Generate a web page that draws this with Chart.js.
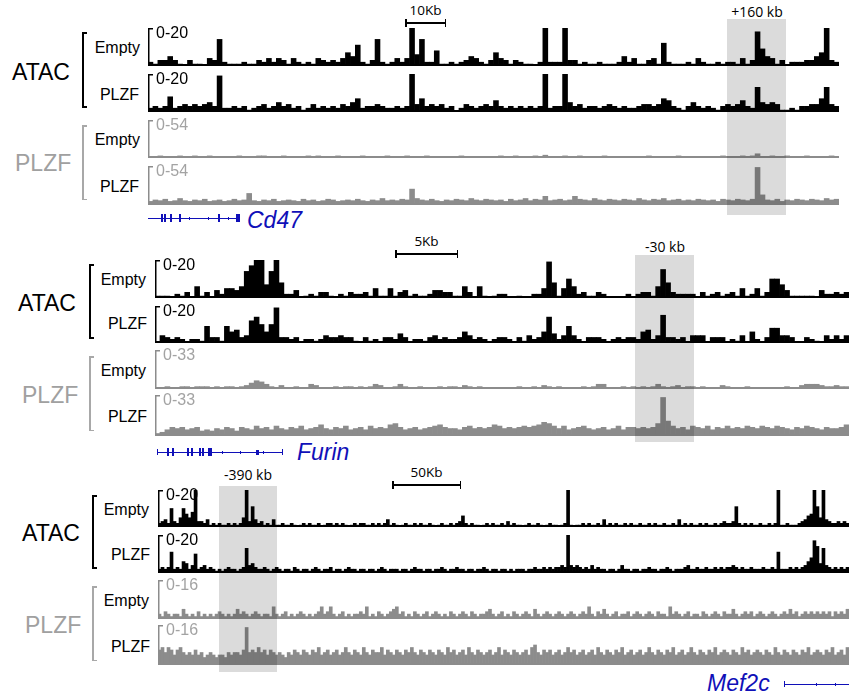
<!DOCTYPE html>
<html><head><meta charset="utf-8">
<script src="https://cdn.jsdelivr.net/npm/chart.js@4.4.1/dist/chart.umd.min.js"></script>
<style>
body{margin:0;background:#fff;}
#fig{position:relative;width:860px;height:699px;overflow:hidden;font-family:"Liberation Sans",Arial,sans-serif;background:#fff;}
.t{position:absolute;white-space:nowrap;line-height:1;}
canvas{position:absolute;}
.d{position:absolute;}
</style></head><body><div id="fig"></div>
<script>
// ---------------- DATA (signal per genomic bin) ----------------
// Cd47 locus (140 bins)
const cd47AtacEmpty = [
2,1,3,3,5,3,1,0,3,1, 1,0,4,3,14,2,1,1,1,2, 1,1,3,2,4,2,4,3,1,4, 2,1,2,1,4,3,2,3,2,4,
7,5,11,2,1,3,14,2,1,2, 4,2,4,20,6,14,2,2,8,1, 1,2,1,2,3,5,4,2,1,3, 7,4,3,1,3,2,1,1,0,2,
20,2,2,2,20,3,3,1,2,1, 1,2,1,1,1,2,5,2,4,1, 1,3,4,1,12,2,1,1,1,2, 1,4,2,1,1,2,1,2,2,1,
4,1,3,18,9,5,4,1,3,0, 2,2,2,3,3,5,7,20,3,2];
const cd47AtacPlzf = [
2,3,2,3,8,2,3,4,3,4, 3,4,5,3,19,2,2,3,2,3, 1,2,3,4,2,3,5,3,4,2, 3,1,2,4,2,3,2,3,2,4,
3,5,7,2,3,3,4,3,2,2, 3,2,3,20,4,7,3,4,3,4, 2,3,0,2,4,3,2,3,4,3, 6,3,2,3,2,3,2,3,2,3,
20,2,3,3,20,5,3,4,2,3, 3,2,3,4,3,2,3,2,2,3, 4,4,3,4,7,6,3,2,1,3, 5,3,2,3,2,1,3,4,3,4,
6,3,2,13,5,4,5,4,1,1, 2,1,3,3,4,4,7,13,4,3];
const cd47PlzfEmpty = [
2,1,3,2,0,2,3,1,2,3, 2,1,3,2,2,1,0,2,3,2, 1,2,3,3,2,1,2,3,2,0, 1,2,3,2,3,1,2,2,3,2,
1,0,2,3,2,1,2,2,3,2, 1,2,3,2,2,1,3,2,2,1, 0,2,2,3,2,1,2,2,1,0, 2,3,2,2,3,2,2,1,3,2,
4,2,1,2,3,2,2,3,2,1, 0,2,3,2,2,1,2,1,0,1, 2,3,2,0,1,2,2,3,2,1, 0,1,2,0,1,2,3,2,1,2,
3,2,3,6,2,2,3,2,2,3, 2,1,2,3,2,2,1,2,3,2];
const cd47PlzfPlzf = [
5,7,6,8,5,6,9,6,5,7, 6,8,5,6,7,5,6,8,6,7, 16,6,5,7,6,8,5,6,7,6, 5,8,6,7,5,6,8,7,5,6,
7,6,8,6,5,7,6,9,6,7, 6,8,7,22,9,7,6,8,6,5, 7,6,8,7,6,9,7,6,8,7, 6,7,5,8,6,7,9,6,8,7,
12,6,7,8,6,7,12,8,7,6, 9,7,6,8,7,6,8,7,6,9, 7,6,8,7,9,6,7,8,6,7, 6,8,7,6,7,5,8,7,6,8,
7,6,8,52,14,7,6,8,5,7, 6,8,7,6,8,7,6,9,7,8];

// Furin locus (140 bins)
const furinAtacEmpty = [
1,1,1,0,2,1,3,0,6,1, 3,0,4,2,5,5,4,6,14,17, 20,20,7,14,20,8,2,2,4,0, 1,2,1,3,3,1,0,2,1,3,
2,2,3,1,5,1,1,5,1,3, 4,1,2,1,1,2,4,4,3,3, 1,1,6,3,0,6,1,0,1,2, 2,0,0,1,0,0,2,2,5,19,
8,1,5,10,6,2,3,1,1,3, 2,0,0,0,0,2,0,2,3,3, 1,6,15,8,3,2,2,2,2,0, 3,1,2,3,1,2,3,1,5,1,
2,5,1,3,10,10,7,4,1,1, 1,1,1,0,4,2,2,3,2,3];
const furinAtacPlzf = [
0,4,3,2,3,2,0,2,2,1, 9,3,3,1,9,6,7,3,4,12, 14,10,6,10,19,3,3,2,3,0, 2,2,1,2,4,3,3,4,3,3,
1,0,3,1,2,0,3,3,2,5, 3,0,2,2,1,3,4,2,3,2, 2,3,6,4,2,3,2,0,2,3, 3,2,0,3,1,4,2,3,6,14,
5,2,4,9,4,2,0,3,3,3, 2,0,2,3,2,3,3,2,6,7, 2,4,15,3,3,2,3,0,4,4, 4,0,3,3,3,0,2,1,4,0,
6,2,0,3,8,8,4,4,3,0, 0,3,2,1,0,4,2,4,2,4];
const furinPlzfEmpty = [
1,1,2,1,1,2,2,1,2,2, 2,1,2,1,2,2,1,2,3,5, 7,6,4,2,1,3,0,1,2,0, 1,4,3,1,0,1,2,1,2,2,
1,2,1,2,4,3,1,1,2,4, 2,1,1,2,1,0,1,2,1,2, 2,1,3,2,1,2,1,0,1,1, 0,1,1,2,0,1,2,1,3,2,
1,2,1,1,0,1,2,1,2,4, 4,1,0,1,2,1,2,1,2,1, 2,4,2,1,2,3,1,2,2,1, 2,1,0,1,3,2,1,0,1,2,
1,1,0,1,0,1,0,2,1,1, 3,4,4,4,3,2,2,3,2,2];
const furinPlzfPlzf = [
2,3,5,7,6,7,5,6,7,4, 5,4,6,5,7,6,4,7,6,5, 8,6,7,5,8,6,5,7,6,8, 5,6,7,9,6,5,7,6,8,5,
6,7,5,8,6,7,6,9,10,7, 5,6,7,5,6,7,8,9,7,6, 6,5,7,8,6,7,6,7,9,8, 6,7,6,7,8,7,8,9,11,10,
8,6,8,5,6,7,8,6,5,6, 7,5,6,8,5,7,7,6,7,6, 7,10,31,12,8,6,7,5,8,7, 6,8,5,7,6,8,6,7,6,8,
7,6,8,7,6,8,7,6,5,7, 6,8,7,6,5,7,6,6,7,9];

// Mef2c locus (230 bins)
const mef2cAtacEmpty = [
2,3,4,2,10,3,2,5,10,7, 5,8,20,3,3,2,4,1,2,1, 2,1,1,2,1,2,1,2,5,20, 3,11,4,2,3,1,2,1,4,1,
1,2,1,1,2,1,0,1,2,1, 2,1,1,2,0,1,2,2,1,2, 1,2,1,0,1,2,1,2,2,1, 1,2,1,2,1,2,4,1,2,1,
0,1,2,1,1,2,1,2,1,1, 2,1,0,1,2,1,1,2,1,2, 3,6,2,1,2,1,1,0,1,2, 1,2,1,1,2,1,3,1,2,1,
1,0,1,2,1,1,2,1,0,1, 2,1,1,0,1,2,20,1,0,1, 1,2,1,2,1,1,2,1,4,1, 2,1,2,1,1,2,1,2,1,1,
2,1,1,2,1,2,1,1,2,1, 1,2,1,4,1,2,1,2,1,1, 2,1,2,1,1,2,1,2,3,2, 2,3,11,2,1,2,1,2,1,1,
2,1,1,2,1,2,20,1,1,2, 1,1,1,2,3,4,6,7,20,11, 5,20,4,3,2,2,3,2,3,2];
const mef2cAtacPlzf = [
2,3,2,3,11,2,3,2,6,5, 2,4,10,2,3,4,2,3,2,1, 2,1,2,3,2,2,1,2,3,13, 4,5,3,2,2,3,2,1,2,3,
2,1,2,2,1,3,2,1,2,2, 1,2,3,2,1,2,2,3,1,2, 2,1,2,3,2,2,1,2,2,1, 2,2,1,2,3,2,1,2,2,2,
1,2,2,1,2,3,2,2,1,2, 2,1,2,2,3,2,1,2,2,3, 2,2,1,2,2,1,2,2,3,2, 1,2,2,1,2,2,1,2,1,2,
2,2,1,2,2,3,2,2,3,2, 3,2,3,3,4,3,20,4,3,4, 3,2,3,2,4,2,3,2,2,1, 2,2,1,2,4,2,2,1,2,2,
1,2,2,3,2,2,1,2,2,3, 2,1,2,2,2,3,4,2,2,3, 2,2,3,2,2,3,2,3,2,3, 3,4,3,2,3,2,2,3,2,2,
2,3,2,2,3,2,11,2,2,2, 3,2,3,2,3,4,6,8,17,14, 5,13,4,3,2,3,2,3,2,3];
const mef2cPlzfEmpty = [
2,1,3,2,1,2,2,1,4,2, 1,2,1,3,1,2,1,2,1,2, 3,2,1,2,1,2,4,2,3,2, 1,2,3,2,1,2,2,1,5,2,
1,2,3,1,2,1,2,3,2,1, 2,1,2,3,5,2,3,5,2,1, 2,3,1,2,1,2,2,3,2,5, 1,2,1,3,2,1,2,3,4,5,
2,3,1,2,1,3,2,1,2,3, 1,2,3,2,1,2,1,3,2,1, 2,3,2,1,3,2,1,2,2,3, 4,2,1,2,3,1,2,1,3,2,
1,2,3,2,1,4,2,1,2,3, 2,1,2,3,2,1,2,3,2,1, 2,3,2,5,2,1,3,2,4,2, 1,2,3,1,2,2,3,1,2,3,
2,1,2,3,2,1,3,2,2,1, 5,2,3,2,1,2,3,1,2,2, 1,3,2,1,2,3,2,1,3,2, 2,4,2,1,2,3,2,3,1,2,
3,2,1,2,3,2,1,2,3,2, 4,2,3,1,2,3,2,3,2,3, 2,3,2,3,1,3,2,3,2,4];
const mef2cPlzfPlzf = [
6,7,5,7,6,4,6,7,5,4, 5,4,6,4,5,3,4,5,4,3, 4,4,3,5,4,5,5,4,6,15, 5,6,5,7,5,6,4,6,5,4,
5,4,3,5,4,6,5,4,6,5, 4,6,5,7,4,5,6,4,5,6, 4,5,7,5,4,6,5,4,7,5, 4,6,5,5,7,4,6,5,4,6,
5,4,6,5,7,5,4,6,5,4, 6,5,4,6,5,4,7,5,6,4, 5,6,4,7,5,4,6,5,4,5, 6,4,5,7,4,6,5,4,6,5,
4,5,6,4,7,8,5,4,6,5, 6,4,5,6,4,5,7,5,6,4, 5,6,4,5,6,4,7,5,4,6, 5,4,6,5,7,4,5,6,4,5,
6,4,5,7,5,4,6,5,4,6, 5,7,4,5,6,4,5,7,5,4, 6,5,4,6,5,7,4,5,6,5, 4,6,5,4,7,5,6,4,5,6,
5,4,6,5,4,7,5,4,6,5, 4,6,5,4,6,5,7,4,5,6, 5,4,6,5,7,4,5,6,4,7];

// Track scale maxima (data range labels)
const atacMax = 20;
const cd47PlzfMax = 54, furinPlzfMax = 33, mef2cPlzfMax = 16;
const sampleNames = ["Empty", "PLZF", "Empty", "PLZF"];

// ---------------- LAYOUT ----------------
const fig = document.getElementById('fig');
const BLACK = '#000000', GRAY = '#8c8c8c', GRAYTXT = '#a3a3a3', BLUE = '#1010b8';

const panels = [
  {x0:148, x1:839, tracks:[[28,66],[74,112],[120,158],[166,205]],
   data:[cd47AtacEmpty, cd47AtacPlzf, cd47PlzfEmpty, cd47PlzfPlzf], plzfMax:cd47PlzfMax,
   lblRight:[140,139,140,139], lblCy:[48,95,140,187],
   atac:{left:12, cy:72}, plzf:{left:15, cy:163},
   brX:82, brAtac:[32,108], brPlzf:[125,200]},
  {x0:155, x1:849, tracks:[[260,298],[306,343],[350,389],[395,436]],
   data:[furinAtacEmpty, furinAtacPlzf, furinPlzfEmpty, furinPlzfPlzf], plzfMax:furinPlzfMax,
   lblRight:[146,147,146,147], lblCy:[280,324,371,417],
   atac:{left:18, cy:303}, plzf:{left:22, cy:395},
   brX:89, brAtac:[264,339], brPlzf:[356,431]},
  {x0:158, x1:849, tracks:[[490,527],[535,573],[580,619],[625,665]],
   data:[mef2cAtacEmpty, mef2cAtacPlzf, mef2cPlzfEmpty, mef2cPlzfPlzf], plzfMax:mef2cPlzfMax,
   lblRight:[149,150,149,150], lblCy:[510,555,601,647],
   atac:{left:22, cy:533}, plzf:{left:25, cy:625},
   brX:92, brAtac:[495,569], brPlzf:[586,661]}
];

function text(str, opts){
  const d = document.createElement('div');
  d.className = 't';
  d.textContent = str;
  const fs = opts.size || 16;
  d.style.fontSize = fs + 'px';
  if (opts.family) d.style.fontFamily = opts.family;
  if (opts.italic) d.style.fontStyle = 'italic';
  d.style.color = opts.color || '#000';
  d.style.top = (opts.cy - fs/2) + 'px';
  d.style.height = fs + 'px';
  if (opts.right !== undefined) d.style.right = (860 - opts.right) + 'px';
  else if (opts.center !== undefined) { d.style.left = opts.center + 'px'; d.style.transform = 'translateX(-50%)'; }
  else d.style.left = opts.left + 'px';
  if (opts.z) d.style.zIndex = opts.z;
  fig.appendChild(d);
  return d;
}
function rect(x, y, w, h, color, z){
  const d = document.createElement('div');
  d.className = 'd';
  d.style.left = x + 'px'; d.style.top = y + 'px';
  d.style.width = w + 'px'; d.style.height = h + 'px';
  d.style.background = color;
  if (z) d.style.zIndex = z;
  fig.appendChild(d);
}
function bracket(x, y0, y1, color, lw){
  rect(x, y0, lw, y1 - y0, color);
  rect(x, y0, 5, lw, color);
  rect(x, y1 - lw, 5, lw, color);
}

const trackFrame = {
  id: 'trackFrame',
  afterDatasetsDraw(chart, args, opts){
    const {ctx, chartArea: a} = chart;
    ctx.save();
    ctx.fillStyle = opts.color;
    ctx.fillRect(a.left, a.bottom - 2, a.right - a.left, 2);
    ctx.fillRect(a.left, a.top, 1.5, a.bottom - a.top);
    ctx.fillRect(a.left, a.top, 5, 1.5);
    ctx.restore();
  }
};

function makeTrack(panel, k){
  const [top, bottom] = panel.tracks[k];
  const values = panel.data[k];
  const isAtac = k < 2;
  const color = isAtac ? BLACK : GRAY;
  const max = isAtac ? atacMax : panel.plzfMax;
  const w = panel.x1 - panel.x0, h = bottom - top;
  const c = document.createElement('canvas');
  c.width = w; c.height = h;
  c.style.left = panel.x0 + 'px'; c.style.top = top + 'px';
  c.style.width = w + 'px'; c.style.height = h + 'px';
  fig.appendChild(c);
  new Chart(c, {
    type: 'bar',
    data: {
      labels: values.map((_, i) => 'bin ' + (i + 1)),
      datasets: [{data: values, backgroundColor: color, borderWidth: 0,
                  barPercentage: 1, categoryPercentage: 1}]
    },
    options: {
      responsive: false, animation: false,
      layout: {padding: 0},
      scales: {x: {display: false}, y: {display: false, min: 0, max: max}},
      plugins: {legend: {display: false}, tooltip: {enabled: false},
                trackFrame: {color: isAtac ? BLACK : GRAY}}
    },
    plugins: [trackFrame]
  });
  text('0-' + max, {left: panel.x0 + 8, cy: top + 5, size: 16, color: isAtac ? BLACK : GRAYTXT, z: 3});
  text(sampleNames[k], {right: panel.lblRight[k], cy: panel.lblCy[k], size: 16});
}

panels.forEach(p => {
  for (let k = 0; k < 4; k++) makeTrack(p, k);
  text('ATAC', {left: p.atac.left, cy: p.atac.cy, size: 23});
  text('PLZF', {left: p.plzf.left, cy: p.plzf.cy, size: 23, color: '#a0a0a0'});
  bracket(p.brX, p.brAtac[0], p.brAtac[1], BLACK, 2);
  bracket(p.brX, p.brPlzf[0], p.brPlzf[1], '#a8a8a8', 1.5);
});

function scaleBar(x0, x1, y, label){
  rect(x0, y - 0.75, x1 - x0, 1.5, '#000');
  rect(x0, y - 4, 1.5, 8, '#000');
  rect(x1 - 1.5, y - 4, 1.5, 8, '#000');
  text(label, {center: (x0 + x1) / 2, cy: y - 12, size: 13.5, family: '"Open Sans", sans-serif'});
}
scaleBar(405, 446, 23, '10Kb');
scaleBar(395, 458, 254, '5Kb');
scaleBar(392, 461, 485, '50Kb');

rect(727, 19, 59, 196, 'rgba(0,0,0,0.14)', 5);
rect(635, 255, 59, 187, 'rgba(0,0,0,0.14)', 5);
rect(219, 486, 58, 186, 'rgba(0,0,0,0.14)', 5);
text('+160 kb', {center: 757, cy: 12, size: 14, family: '"Open Sans", sans-serif'});
text('-30 kb', {center: 665, cy: 247, size: 14, family: '"Open Sans", sans-serif'});
text('-390 kb', {center: 248, cy: 475, size: 14, family: '"Open Sans", sans-serif'});

// gene models
rect(148, 217.5, 90, 1, BLUE);
[161,164,170,179,218].forEach(x => rect(x, 214, 2, 8, BLUE));
[189,208,228].forEach(x => rect(x, 216.5, 1, 3, BLUE));
rect(236, 214, 4, 8, BLUE);
text('Cd47', {left: 247, cy: 220, size: 23, italic: true, color: BLUE});
rect(157, 451.5, 126, 1, BLUE);
rect(157, 449, 1, 6, BLUE); rect(282, 449, 1, 6, BLUE);
[[167,2],[172,1.5],[187,2],[191,1.5],[199,2],[202,1.5]].forEach(e => rect(e[0], 448, e[1], 8, BLUE));
rect(208, 448, 4, 8, BLUE);
rect(256, 449.5, 3, 5, BLUE);
[222,240,263].forEach(x => rect(x, 450.5, 1, 3, BLUE));
text('Furin', {left: 297, cy: 452, size: 23, italic: true, color: BLUE});
rect(784, 683.5, 65, 1, BLUE);
rect(784, 681, 1, 6, BLUE);
[816,835].forEach(x => rect(x, 682.5, 1, 3, BLUE));
text('Mef2c', {left: 707, cy: 683, size: 23, italic: true, color: BLUE});
</script>
</body></html>
